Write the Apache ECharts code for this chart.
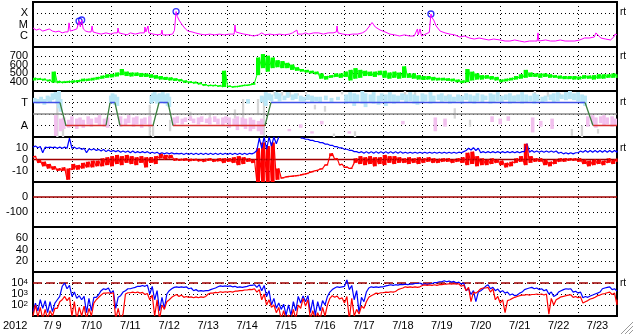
<!DOCTYPE html>
<html><head><meta charset="utf-8">
<script src="https://cdn.jsdelivr.net/npm/echarts@6/dist/echarts.min.js"></script>
<style>html,body{margin:0;padding:0;background:#fff}#c{width:633px;height:334px}</style>
</head><body><div id="c"></div>
<script>
// ---------- DATA ----------
const dayLabels = ['7/ 9','7/10','7/11','7/12','7/13','7/14','7/15','7/16','7/17','7/18','7/19','7/20','7/21','7/22','7/23'];
const yearLabel = '2012';
const spanHours = 360;           // 7/9 00:00 .. 7/24 00:00
const sampleStep = 3;            // hours between samples of the 121-point arrays

// X-ray flux (W/m2): [hour, flux]
const xray = [[0,4.9e-6],[2,3.2e-6],[4,4.0e-6],[6,2.6e-6],[8,3.2e-6],[10,4.0e-6],[12,2.6e-6],[14,2.2e-6],[16,2.6e-6],[18,1.8e-6],[20,2.2e-6],[21.6,2.2e-6],[22.2,1.4e-5],[23,2.6e-6],[25,3.2e-6],[27,4.0e-6],[28.4,2.0e-5],[29.2,6.0e-6],[30,2.5e-5],[31,4.0e-6],[32.5,2.6e-6],[34,2.2e-6],[35.8,2.2e-6],[36.4,7.4e-6],[37,2.2e-6],[39,1.8e-6],[42,1.4e-6],[45,1.8e-6],[48,1.4e-6],[50,1.8e-6],[52,1.8e-6],[52.4,4.9e-6],[53,1.8e-6],[56,1.4e-6],[58,1.2e-6],[60,1.8e-6],[63,1.4e-6],[66,1.8e-6],[68.6,1.8e-6],[69,6.0e-6],[69.6,2.2e-6],[70.5,2.2e-6],[70.9,7.4e-6],[71.4,1.8e-6],[74,1.4e-6],[77,1.2e-6],[79,1.4e-6],[79.5,3.2e-6],[80,1.2e-6],[83,1.2e-6],[86,1.4e-6],[87.2,3.0e-6],[88.2,1.4e-4],[89,5.0e-5],[90,2.5e-5],[92,9.1e-6],[94,4.0e-6],[95.5,2.6e-6],[98,2.2e-6],[100,1.8e-6],[103,1.4e-6],[106,1.2e-6],[109,1.4e-6],[112,1.2e-6],[115,1.4e-6],[118,1.2e-6],[121,1.4e-6],[124,1.4e-6],[124.5,9.1e-6],[125,2.2e-6],[127,1.8e-6],[130,1.4e-6],[133,1.2e-6],[136,9.5e-7],[139,1.2e-6],[141,1.8e-6],[143,1.2e-6],[146,1.4e-6],[149,1.2e-6],[152,1.4e-6],[155,1.2e-6],[158,1.4e-6],[160,1.8e-6],[162.7,3.2e-6],[163.2,1.4e-6],[166,1.4e-6],[168,1.8e-6],[170,1.4e-6],[173,1.8e-6],[176,1.8e-6],[179,1.4e-6],[182,1.8e-6],[185,1.8e-6],[187,2.2e-6],[187.4,7.4e-6],[188,1.8e-6],[191,1.4e-6],[194,1.2e-6],[197,1.4e-6],[200,1.4e-6],[203,1.8e-6],[205,2.6e-6],[207,6.0e-6],[209,1.5e-5],[211,6.0e-6],[214,3.2e-6],[217,2.2e-6],[220,1.4e-6],[223,1.2e-6],[226,9.5e-7],[229,1.2e-6],[232,9.5e-7],[235,9.5e-7],[237,4.0e-6],[237.5,1.2e-6],[238.6,4.0e-6],[239.5,9.5e-7],[241,1.2e-6],[244.3,2.0e-6],[245.3,8.6e-5],[246,4.0e-5],[247,2.5e-5],[248.5,7.4e-6],[251,2.6e-6],[254,1.8e-6],[257,1.4e-6],[260,1.2e-6],[263,7.7e-7],[266,9.5e-7],[269,6.3e-7],[272,5.1e-7],[275,6.3e-7],[278,5.1e-7],[281,4.2e-7],[284,5.1e-7],[288,4.2e-7],[291,3.4e-7],[294,3.4e-7],[297,4.2e-7],[300,3.4e-7],[303,2.8e-7],[306,3.4e-7],[309,3.4e-7],[310.8,3.4e-7],[311.3,1.8e-6],[311.8,3.4e-7],[313,3.4e-7],[316,4.2e-7],[319,3.4e-7],[322,3.4e-7],[325,4.2e-7],[328,3.4e-7],[331,3.4e-7],[334,3.4e-7],[337,4.2e-7],[340,6.3e-7],[343,6.3e-7],[346,7.7e-7],[347,1.8e-6],[348,1.2e-6],[350,6.3e-7],[353,5.1e-7],[356,4.2e-7],[358,7.7e-7],[358.8,1.4e-6],[360,1.2e-6]];
const xrayPeaks = [[28.4,2.0e-5],[30,2.5e-5],[88.2,1.4e-4],[245.3,8.6e-5]];
const xrayLevels = [1e-6,1e-5,1e-4];
const xrayLevelLabels = ['C','M','X'];

// Solar wind speed (km/s), low / high of the noisy band, one row per day (3 h steps)
const swLo = [420,425,420,410,395,390,390,395, 395,400,410,415,420,430,440,450, 455,465,480,470,465,470,460,460, 450,440,430,425,420,415,410,395, 390,385,375,360,355,355,350,345, 345,340,345,355,360,370,480,560, 520,560,570,560,560,540,530,520, 510,500,490,440,430,450,460,450, 460,420,440,450,470,470,460,480, 450,440,450,440,450,450,440,430, 425,430,420,420,420,415,410,400, 390,400,420,430,430,440,430,420, 400,410,420,430,440,450,460,460, 450,460,450,450,440,435,435,430, 430,440,440,430,440,440,450,450, 450];
const swHi = [450,445,440,430,520,415,410,415, 420,425,440,440,450,460,475,490, 495,510,550,520,510,510,505,500, 490,480,470,460,455,445,435,420, 410,405,395,380,370,370,365,530, 360,355,360,370,375,390,680,720, 700,680,650,640,620,600,570,550, 540,530,520,500,470,480,500,500, 520,540,560,540,530,520,520,530, 530,510,520,510,580,500,500,480, 470,470,460,450,450,445,440,430, 420,550,520,500,480,480,470,460, 430,440,450,470,490,540,510,500, 500,500,490,480,475,470,470,470, 465,480,475,480,490,490,490,500, 490];

// IMF sector: times (h) and state (T=1, A=-1)
const sectorHours = [0,16.6,20.3,45,47.5,50.5,53.6,74,77.7,83.2,86.3,143,146.7,340.3,345.2,360];
const sectorState = [1,1,-1,-1,1,1,-1,-1,1,1,-1,-1,1,1,-1,-1];
const sectorLabelVals = [-1,1];
const sectorLabels = ['A','T'];
// scattered points: [hour, low, high]
const sprayBlue = [[1,1.0,1.4],[3,0.9,1.3],[5,1.0,1.5],[7,0.8,1.3],[9,1.1,1.6],[10.5,1.0,1.5],[12,1.2,1.8],[14,1.3,1.9],[15,0.9,1.7],[16,0.5,2.0],[17,0.2,1.3],[48,0.9,1.6],[49,1.1,1.8],[50.5,0.8,1.7],[52,0.7,1.5],[73,0.9,1.6],[74,1.2,1.8],[75,1.1,1.9],[76.5,0.9,1.7],[78,1.2,1.8],[79,1.0,1.6],[80,1.1,1.9],[81.5,0.9,1.7],[83,0.7,1.8],[84,0.6,1.5],[132.5,0.9,1.3],[141,1.0,1.6],[143.5,0.7,1.9],[145.5,1.2,1.8],[147,1.1,1.7],[150,1.3,1.9],[152,1.1,1.8],[155,1.2,1.6],[157,1.4,1.9],[160,1.2,1.7],[162,1.3,1.8],[165,1.1,1.6],[167,1.1,1.5],[169.5,1.2,1.7],[172,1.0,1.6],[174.5,1.1,1.5],[177,1.0,1.5],[180.5,1.2,1.6],[184,1.0,1.4],[188,1.2,1.5],[193,0.9,1.7],[195.5,1.0,1.9],[198,0.7,1.8],[200,1.0,1.7],[203,0.9,2.0],[205,0.6,1.8],[208,1.0,1.7],[210,0.9,1.9],[213,0.8,1.6],[215,1.1,1.8],[217.5,0.7,1.7],[220,1.0,1.9],[222.5,0.9,1.7],[225,1.0,1.6],[227.5,1.2,1.8],[230,1.0,1.7],[232.5,1.1,1.9],[235,0.9,1.7],[237,0.8,1.6],[240,1.0,1.8],[242,1.1,1.7],[245,0.9,1.9],[247,1.0,1.6],[250,1.2,1.7],[252,1.0,1.8],[254.5,1.1,1.6],[257,0.9,1.7],[259.5,1.0,1.5],[262,1.1,1.7],[264.5,0.9,1.6],[267,1.2,1.8],[269.5,1.0,1.7],[272,0.9,1.6],[274,1.1,1.8],[277,1.0,1.7],[279,1.2,1.6],[282,0.9,1.8],[284,1.0,1.7],[286.5,1.1,1.9],[289,1.0,1.6],[291.5,1.2,1.7],[294,0.9,1.8],[296.5,1.0,1.6],[299,1.1,1.7],[301.5,0.9,1.9],[304,1.0,1.7],[306.5,1.1,1.6],[309,0.9,1.8],[311,1.1,1.7],[314,1.0,1.5],[316,1.1,1.6],[319,1.2,1.7],[321,1.0,1.8],[323.5,1.1,1.9],[326,1.3,1.7],[328.5,1.2,1.9],[331,1.3,2.0],[333.5,1.2,1.8],[336,1.1,1.9],[338.5,0.9,1.7],[340.3,0.7,1.6]];
const sprayPink = [[14,-1.9,-0.1],[17,-1.5,-0.4],[19,-1.3,-0.3],[22,-1.2,-0.5],[24,-1.1,-0.2],[27,-1.3,-0.4],[29,-1.0,-0.3],[31,-1.2,-0.5],[34,-0.9,-0.2],[36,-1.1,-0.4],[39,-0.8,-0.3],[41,-1.0,-0.1],[44,-1.1,-0.4],[46,-1.2,-0.3],[54,-1.1,-0.2],[57,-1.0,-0.4],[59,-0.8,-0.1],[62,-1.1,-0.3],[64,-0.9,-0.2],[67,-1.2,-0.4],[69,-0.9,-0.3],[72,-1.1,-0.2],[87,-1.0,-0.3],[89,-0.8,-0.2],[92,-0.9,-0.4],[94,-0.7,-0.3],[97,-0.6,-0.2],[99,-0.8,-0.4],[102,-0.9,-0.3],[104,-0.7,-0.2],[107,-0.8,-0.4],[109,-0.9,-0.3],[112,-0.7,-0.2],[114,-0.9,-0.4],[117,-1.0,-0.3],[119,-0.8,-0.2],[121,-1.2,-0.3],[124,-1.0,-0.4],[126,-1.4,-0.2],[129,-1.1,-0.3],[131,-1.3,-0.4],[134,-1.5,-0.3],[136,-1.3,-0.5],[139,-1.5,-0.6],[141,-1.8,-0.4],[158,-1.5,-1.3],[165,-1.2,-0.9],[172,-1.7,-1.5],[178,-0.9,-0.6],[195,-1.7,-1.5],[228,-0.9,-0.6],[248,-1.5,-0.3],[254,-1.1,-0.4],[283,-0.7,-0.2],[288,-0.9,-0.4],[293,-0.6,-0.2],[308,-1.6,-0.3],[313,-1.1,-0.6],[320,-1.3,-0.4],[342,-1.1,-0.2],[345,-0.9,-0.1],[347,-1.2,-0.3],[350,-0.8,-0.2],[352,-1.0,-0.1],[354,-0.9,-0.3],[357,-1.1,-0.2],[359,-1.0,-0.4]];
const sprayGray = [[15,-2.0,1.9],[18.5,-2.1,-1.3],[72,-1.9,0.8],[74,-2.0,-1.0],[84.5,-1.5,-0.5],[97,-0.4,0.2],[109,-0.7,0.1],[124.5,-0.4,0.4],[129.5,-0.5,1.3],[138.7,-0.1,1.3],[142.4,-1.9,1.5],[149,1.6,2.0],[153.5,1.6,2.0],[158.4,1.5,1.9],[163.3,1.6,1.8],[168.3,1.7,2.0],[173.8,0.4,0.8],[180,0.2,0.7],[185.5,-2.1,-1.7],[190.5,1.7,2.0],[198.5,-2.0,-1.5],[229.3,1.6,2.0],[235.5,1.5,1.9],[244.7,1.4,1.8],[255.8,1.3,1.7],[260,-0.4,0.5],[269.4,-1.1,-0.5],[297,1.4,1.6],[309.4,1.6,2.0],[317.4,1.5,1.9],[324.8,1.4,1.8],[332.2,-1.9,-1.3],[338.4,-2.0,-1.0],[348.3,-1.7,-1.3]];

// IMF Bt and Bz (nT), low / high (3 h steps, one row per day)
const btLo = [11,10.5,6,10.5,10.5,10,10,10, 10,9.5,9,6,8.5,8,7.5,7, 7,7,6.5,6.5,6,6,6,6, 5.5,5.5,5,5,5,5,5,4.5, 4.5,4.5,4.5,4.5,4.5,4.5,4.5,4.5, 4.5,4.5,4.5,4.5,4.5,5,8,10, 9,12,14,null,null,null,null,19, 18,17,16,15,13.7,12.6,11.4,10.3, 9.1,8.2,7,6,5.5,5.5,5.5,5.5, 5.5,5.5,5.5,5.5,5.5,5.5,5.5,5.5, 5.5,5.5,5.5,5.5,5.5,5.5,5.5,5.5, 6,8,8.5,8,6,6,6,6, 6,6,6,6,6,7,6.5,6.5, 6.5,6.5,6.5,6.5,5.5,5,5,5, 6,6.5,6.5,6.5,6.5,6.5,6.5,6.5, 6.5];
const btHi = [12,11.5,11,11,11,11,11,19, 11,10.5,10,9.5,9.5,9,9,8.5, 8,8,7.5,7.5,7.5,7,7,7, 6.5,6.5,6,6,6,5.5,5.5,5.5, 5.5,5.5,5.5,5.5,5.5,5.5,5.5,5.5, 5.5,5.5,5.5,5.5,5.5,6,19,20, 20,20,20,null,null,null,null,19, 18,17,16,15,13.7,12.6,11.4,10.3, 9.1,8.2,7,7,7,7,7,7, 7,7,7,7,6.5,6.5,6.5,6.5, 6.5,6.5,6.5,6.5,6.5,6.5,6.5,6.5, 7,10,10.5,10,7,7,7,7, 7,7,7,7,7,14,8,7.5, 7.5,7.5,7.5,7.5,6.5,6,6,6, 7.5,8,8,8,8,8,8,8, 8];
const bzLo = [2,-3,-6,-8,-9,-10,-10,-18, -9,-9,-8,-7,-7,-6,-6,-5, -6,-4,-5,-3,-4,-5,-3,-7, -3,-4,1,0,1,-1,-1,-1, -1.5,-1,-1.5,-2,-1,-2,-1.5,-3, -2,-3,-5,-4,-2,-3,-20,-20, -20,-20,-18,-16.5,-15.5,-15,-14.5,-14, -13,-11.5,-10,-8.5,-5,3,0,-5, -7,-8,-3,-4,-5,-4,-6,-4, -5,-3,-4,-3,-3,-4,-3,-4, -3,-2,-3,-3,-2,-2,-3,-2, -3,-5,-4,-6,-5,-5,-4,-3, -5,-7,-6,-3,-2,-5,-3,-2, -2,-5,-6,-4,-2,-2,-1,-1, -2,-4,-6,-5,-4,-5,-3,-4, -2];
const bzHi = [3,-0.5,-2,-4,-6,-8,-7,-8, -4,-5,-3,-2,-1,-1,1,2, 3,4,3,4,3,2,3,2, 2,3,5,4,4,1,0.5,1, 0.5,0.5,0,0.5,1,0,1,1, 1,2,3,2,1,0,10,15, 12,15,-8,-16,-15,-14.5,-14,-13, -12,-10.5,-9.5,-8,-4.5,5.5,1,-4, -6.5,-7.5,1,3,2,3,2,2, 4,3,3,2,1,2,1,2, 1,2,1,0.5,1,1,0,1, 2,6,7,3,1,0,1,0, -1,-3,-2,1,3,14,3,1, 1,0,-2,0,1,1,1,1, 1,0,-1,0,0,-1,1,0, 1];

// Particle flux (log panel), blue and red channels, low / high (3 h steps)
const fluxBlueLo = [25,30,50,20,25,300,5000,3000, 600,400,300,20,30,500,2000,2500, 1200,50,700,2000,3000,4000,5000,5000, 1000,300,30,50,2000,4000,4000,4000, 3000,2000,1800,1800,2000,3000,4500,5000, 5000,4500,4000,4000,5000,6000,4000,2000, 600,100,50,40,12,12,30,150, 200,20,12,30,100,1500,3500,4000, 5000,2500,300,20,200,3500,4000,4000, 4500,6000,6000,6500,7000,7000,8000,9000, 7500,7500,9000,11000,13000,13000,12000,10000, 8000,2000,900,200,2000,5000,3000,2000, 1500,1200,800,700,1200,2500,3500,3000, 2500,2000,1000,600,1500,2500,2800,1500, 1200,450,500,800,1200,3000,4000,2500, 1800];
const fluxBlueHi = [150,300,250,200,150,600,10000,6000, 1500,700,600,400,500,900,3000,3500, 2000,500,1500,3000,3500,5000,6000,6500, 5000,2000,500,1000,3000,4500,4500,4500, 3500,2500,2000,2000,2500,3500,5500,5500, 5500,5000,4500,4500,6000,7000,7000,6000, 2000,400,150,120,100,200,600,650, 700,300,200,250,600,2500,4500,4500, 19000,6000,2000,500,1500,4500,4500,4500, 5500,7000,7000,7500,8000,8000,9000,10000, 8500,8500,11000,13000,16000,15000,14000,12000, 10000,3000,2000,1500,3000,7000,4000,2800, 2000,1500,1000,800,1500,3000,4000,3500, 3000,2500,1500,800,2000,3000,3000,1800, 1500,600,650,1000,1500,3500,4500,3000, 2000];
const fluxRedLo = [10,8,5,5,10,50,300,250, 10,5,10,5,10,300,800,1200, 1100,5,5,1000,1300,1300,1200,900, 300,10,5,40,300,700,600,500, 500,450,450,500,1000,1200,1300,1400, 1500,1500,1800,2000,2300,2500,1500,300, 100,60,20,5,5,5,5,50, 80,5,5,5,10,400,500,350, 150,5,10,15,50,500,900,1100, 1300,1400,1500,2500,3500,4000,4000,4000, 6000,6000,6000,6000,7000,8000,8000,8000, 5000,2000,200,1200,3000,3500,1500,300, 150,20,300,500,700,800,800,900, 900,800,15,100,400,600,800,500, 450,150,250,400,700,1000,1300,900, 100];
const fluxRedHi = [100,60,40,30,50,200,600,500, 200,60,80,50,150,500,1200,1300, 1300,50,15,1300,1500,1500,1400,1100, 800,300,100,200,500,900,800,600, 550,550,550,600,1200,1400,1600,1600, 1700,1800,2000,2300,2600,3000,2500,1000, 300,100,60,30,12,40,100,400, 300,30,20,60,100,700,650,450, 600,400,40,80,200,700,1200,1300, 1500,1600,1700,3000,4500,4500,4500,4500, 6800,6800,7000,7000,8000,8500,8500,8500, 6500,4000,1500,1800,3500,4000,3000,600, 300,250,400,600,800,900,900,1000, 1000,1000,400,300,550,700,850,600, 550,200,350,500,800,1100,1500,1200, 300];

const bzZero = 0, dstZero = 0, fluxThreshold = 1e4;

// ---------- CHART ----------
const FONT = "'Liberation Sans', Arial, Helvetica, sans-serif";
const C = {mag:'#ff00ff', grn:'#00ff00', blu:'#0000ff', red:'#ff0000', dred:'#a00000',
  secBlue:'#4050e8', secRed:'#d83030', secGreen:'#3c8040', zero:'#8a8a8a',
  sprayBlue:'#b8e6f6', sprayPink:'#f2c0ee', sprayGray:'#d6d6d6'};

function zig(lo, hi){
  const out=[];
  lo.forEach((v,i)=>{
    const h=i*sampleStep;
    out.push([h, v]);
    out.push([i<lo.length-1 ? h+sampleStep/2 : h, hi[i]]);
  });
  return out;
}
function rows(lo, hi){ return lo.map((v,i)=>[i*sampleStep, v, hi[i]]); }
function hline(v){ return [[0,v],[spanHours,v]]; }

const panelTops=[2,47,91,137,182,227,272];
const panelHeights=[45,44,46,45,45,45,44];
const grids = panelTops.map((t,i)=>({left:33,right:16,top:t,height:panelHeights[i],show:true,
  borderColor:'#000',borderWidth:2,backgroundColor:'rgba(0,0,0,0)'}));

const dotted = {show:true,lineStyle:{color:'#000',type:[1,3],width:1}};
const xAxes = panelTops.map((t,i)=>({type:'value',gridIndex:i,min:0,max:spanHours,interval:24,position:'top',
  axisLine:{show:false},axisTick:{show:false},axisLabel:{show:false},splitLine:dotted}));
xAxes.push({type:'category',gridIndex:6,data:dayLabels,boundaryGap:true,position:'bottom',
  axisLine:{show:false},axisTick:{show:false},splitLine:{show:false},
  axisLabel:{color:'#000',fontSize:11,fontFamily:FONT,margin:4,interval:0}});

const lab = (fmt, extra)=>Object.assign({color:'#000',fontSize:11,fontFamily:FONT,margin:5,formatter:fmt},extra||{});
const yBase = (i)=>({gridIndex:i,axisLine:{show:false},axisTick:{show:false},splitLine:dotted});
const yAxes = [
  Object.assign(yBase(0),{type:'log',logBase:10,min:1e-7,max:1e-3,
    axisLabel:lab(v=>{const e=Math.round(Math.log10(v));const k=xrayLevels.findIndex(l=>Math.round(Math.log10(l))===e);return k>=0?xrayLevelLabels[k]:'';})}),
  Object.assign(yBase(1),{type:'value',min:300,max:800,interval:100,
    axisLabel:lab(v=>(v>300&&v<800)?String(v):'')}),
  Object.assign(yBase(2),{type:'value',min:-2,max:2,interval:1,
    axisLabel:lab(v=>{const k=sectorLabelVals.indexOf(Math.round(v));return k>=0?sectorLabels[k]:'';})}),
  Object.assign(yBase(3),{type:'value',min:-20,max:20,interval:10,
    axisLabel:lab(v=>(v>-20&&v<20)?String(v):'')}),
  Object.assign(yBase(4),{type:'value',min:-200,max:100,interval:100,
    axisLabel:lab(v=>(v>-200&&v<100)?String(v):'')}),
  Object.assign(yBase(5),{type:'value',min:0,max:80,interval:20,
    axisLabel:lab(v=>(v>0&&v<80)?String(v):'')}),
  Object.assign(yBase(6),{type:'log',logBase:10,min:10,max:1e5,
    axisLabel:lab(v=>{const e=Math.round(Math.log10(v));return (e>1&&e<5)?'{b|10}{s|'+e+'}':'';},
      {rich:{b:{fontSize:11,fontFamily:FONT,color:'#000',lineHeight:11,verticalAlign:'bottom'},
             s:{fontSize:8,fontFamily:FONT,color:'#000',lineHeight:8,verticalAlign:'top',padding:[0,0,6,0]}}})})
];

function line(i, data, color, w, extra){
  return Object.assign({type:'line',xAxisIndex:i,yAxisIndex:i,data,symbol:'none',silent:true,
    connectNulls:false,clip:true,lineStyle:{color,width:w||1},itemStyle:{color}},extra||{});
}
// vertical range marks: [hour, low, high] drawn through the axis scales
function ranges(i, data, color, widthHours, offsetHours){
  return {type:'custom',xAxisIndex:i,yAxisIndex:i,data,clip:true,silent:true,encode:{x:0,y:[1,2]},
    renderItem:function(params,api){
      const lo=api.value(1), hi=api.value(2);
      if(lo==null||hi==null||isNaN(lo)||isNaN(hi)) return null;
      const x0=api.value(0)+offsetHours;
      const a=api.coord([x0-widthHours/2,hi]);
      const b=api.coord([x0+widthHours/2,lo]);
      return {type:'rect',shape:{x:a[0],y:a[1],width:Math.max(1,b[0]-a[0]),height:Math.max(1,b[1]-a[1])},style:{fill:color}};
    }};
}
// sector pieces
const secBlue=[],secRed=[],secGreen=[];
for(let i=0;i<sectorHours.length-1;i++){
  const a=[sectorHours[i],sectorState[i]], b=[sectorHours[i+1],sectorState[i+1]];
  const tgt = (a[1]===1&&b[1]===1)?secBlue:((a[1]===-1&&b[1]===-1)?secRed:secGreen);
  tgt.push(a,b,[b[0],null]);
}

const series = [
  line(0, xray, C.mag, 1),
  {type:'scatter',xAxisIndex:0,yAxisIndex:0,data:xrayPeaks,symbol:'circle',symbolSize:6,silent:true,
    itemStyle:{color:'rgba(255,255,255,0)',borderColor:C.blu,borderWidth:1.3}},
  ranges(1, rows(swLo,swHi), C.grn, 2.6, 0.75),
  line(1, zig(swLo,swHi), C.grn, 1),
  ranges(2, sprayGray, C.sprayGray, 1.4, 0), ranges(2, sprayBlue, C.sprayBlue, 2.4, 0), ranges(2, sprayPink, C.sprayPink, 2.2, 0),
  line(2, hline(0), C.zero, 1.5),
  line(2, secRed, C.secRed, 1.3), line(2, secBlue, C.secBlue, 1.3), line(2, secGreen, C.secGreen, 1.3),
  line(3, hline(bzZero), C.dred, 1.5),
  line(3, zig(btLo,btHi), C.blu, 1.2),
  ranges(3, rows(bzLo,bzHi), C.red, 2.4, 0.75),
  line(3, zig(bzLo,bzHi), C.red, 1.2),
  line(4, hline(dstZero), C.dred, 1.5),
  line(6, hline(fluxThreshold), C.dred, 1.5, {lineStyle:{color:C.dred,width:1.5,type:[9,4]}}),
  line(6, zig(fluxBlueLo,fluxBlueHi), C.blu, 1.2),
  line(6, zig(fluxRedLo,fluxRedHi), C.red, 1.2)
];

const txt=(x,y,t,size)=>({type:'text',x,y,silent:true,style:{text:t,fontSize:size||11,fontFamily:FONT,fill:'#000',verticalAlign:'middle',align:'left'}});
const graphic=[
  txt(3,326,yearLabel,11),
  txt(620,12,'rt',10), txt(620,56,'rt',10), txt(620,102,'rt',10), txt(620,148,'rt',10), txt(620,283,'rt',10)
];
[0,4,8].forEach(k=>graphic.push({type:'line',silent:true,shape:{x1:621+k,y1:334,x2:633,y2:322+k},style:{stroke:'#9a9a9a',lineWidth:1}}));

const chart = echarts.init(document.getElementById('c'),null,{renderer:'canvas'});
chart.setOption({animation:false,backgroundColor:'#fff',grid:grids,xAxis:xAxes,yAxis:yAxes,series,graphic});
</script></body></html>
